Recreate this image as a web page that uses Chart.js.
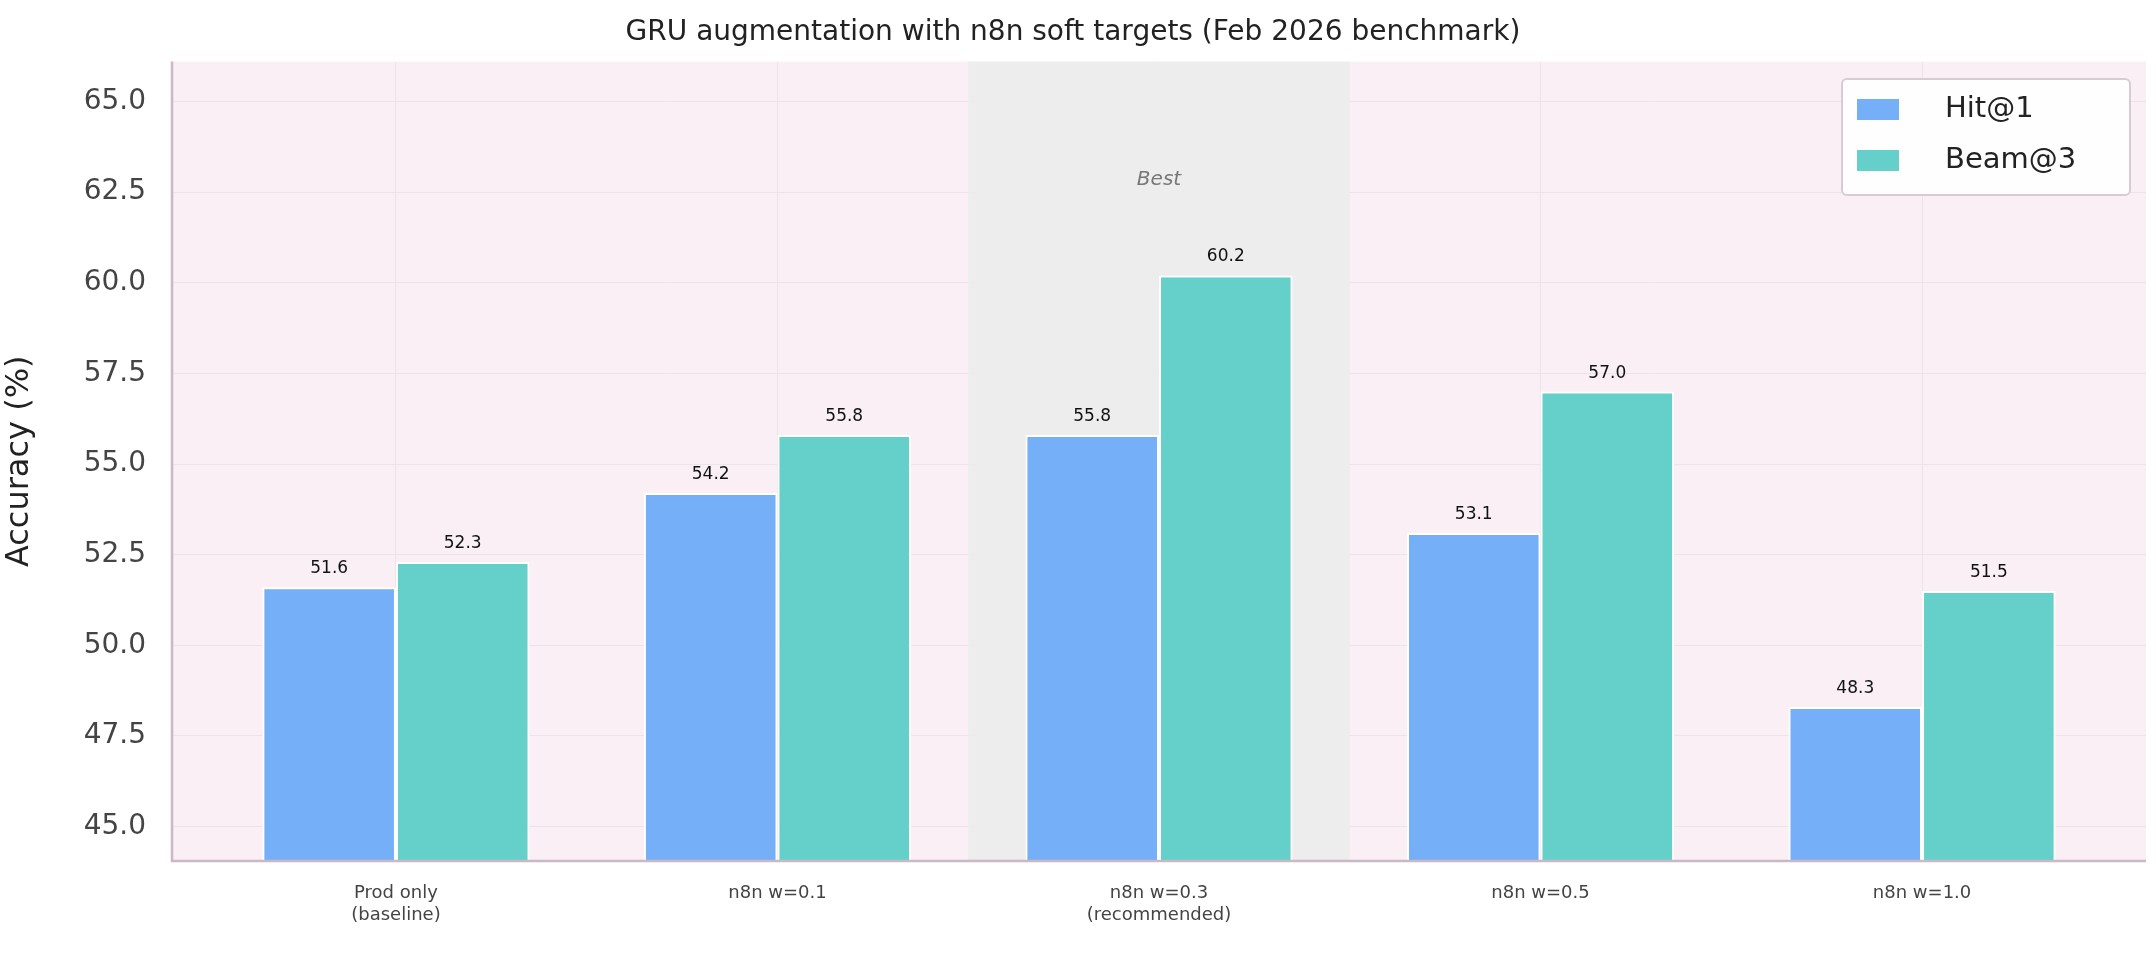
<!DOCTYPE html>
<html><head><meta charset="utf-8">
<script src="https://cdn.jsdelivr.net/npm/chart.js@4/dist/chart.umd.min.js"></script>
<style>body{margin:0;background:#fff}#wrap{width:2156px;height:955px}</style>
</head><body><div id="wrap"><canvas id="myChart"></canvas></div>
<script>
let categories = [['Prod only','(baseline)'], ['n8n w=0.1'], ['n8n w=0.3','(recommended)'], ['n8n w=0.5'], ['n8n w=1.0']]
let hit1 = [51.6, 54.2, 55.8, 53.1, 48.3]
let beam3 = [52.3, 55.8, 60.2, 57.0, 51.5]
let bestIndex = 2
const font = 'DejaVu Sans'

// фон, подсветка лучшей группы, подписи и легенда
const extras = {
    id: 'extras',
    beforeDatasetsDraw(chart) {
        const {ctx, chartArea: a, scales: {x, y}} = chart
        ctx.save()
        ctx.fillStyle = 'rgba(236,236,236,0.9)'
        let l = x.getPixelForValue(bestIndex - 0.5), r = x.getPixelForValue(bestIndex + 0.5)
        ctx.fillRect(l, a.top, r - l, a.bottom - a.top)
        ctx.fillStyle = '#777'
        ctx.font = 'italic 20px ' + font
        ctx.textAlign = 'center'
        ctx.fillText('Best', x.getPixelForValue(bestIndex), y.getPixelForValue(62.7))
        ctx.restore()
    },
    beforeDraw(chart) {
        const {ctx, chartArea: a} = chart
        ctx.save()
        ctx.fillStyle = '#f9eff5'
        ctx.fillRect(a.left, a.top, a.right - a.left, a.bottom - a.top)
        ctx.restore()
    },
    afterDatasetsDraw(chart) {
        const {ctx, chartArea: a} = chart
        ctx.save()
        ctx.font = '17px ' + font
        ctx.fillStyle = '#111'
        ctx.textAlign = 'center'
        chart.data.datasets.forEach((ds, i) => {
            chart.getDatasetMeta(i).data.forEach((bar, j) => {
                ctx.fillText(ds.data[j].y.toFixed(1), bar.x, bar.y - 14)
            })
        })
        // оси
        ctx.strokeStyle = '#c8b9c4'
        ctx.lineWidth = 2.5
        ctx.beginPath()
        ctx.moveTo(a.left, a.top); ctx.lineTo(a.left, a.bottom); ctx.lineTo(a.right, a.bottom)
        ctx.stroke()
        // легенда
        let lx = 1842, ly = 79, w = 288, h = 116
        ctx.fillStyle = 'rgba(255,255,255,0.9)'
        ctx.strokeStyle = '#d8cbd4'
        ctx.lineWidth = 2
        ctx.beginPath(); ctx.roundRect(lx, ly, w, h, 5); ctx.fill(); ctx.stroke()
        ctx.font = '29px ' + font
        ctx.textAlign = 'left'
        ctx.textBaseline = 'middle'
        chart.data.datasets.forEach((ds, i) => {
            let cy = ly + 30 + i * 51
            ctx.fillStyle = ds.backgroundColor
            ctx.fillRect(lx + 15, cy - 10, 42, 21)
            ctx.fillStyle = '#222'
            ctx.fillText(ds.label, lx + 103, cy)
        })
        ctx.restore()
    }
}

const toXY = arr => arr.map((v, i) => ({x: i, y: v}))

new Chart(document.getElementById('myChart'), {
    type: 'bar',
    data: {
        datasets: [
            {label: 'Hit@1', data: toXY(hit1), backgroundColor: '#74aff7', borderColor: '#fff', borderWidth: 2, borderSkipped: 'bottom'},
            {label: 'Beam@3', data: toXY(beam3), backgroundColor: '#64d0c9', borderColor: '#fff', borderWidth: 2, borderSkipped: 'bottom'}
        ]
    },
    options: {
        responsive: true, maintainAspectRatio: false, animation: false,
        layout: {padding: {right: 10, top: 0}},
        datasets: {bar: {barPercentage: 1, categoryPercentage: 0.7, grouped: true}},
        plugins: {
            legend: {display: false}, tooltip: {enabled: false},
            title: {display: true, text: 'GRU augmentation with n8n soft targets (Feb 2026 benchmark)',
                color: '#222', font: {family: font, size: 28, weight: 'normal'}, padding: {top: 16, bottom: 12}}
        },
        scales: {
            x: {
                type: 'linear', min: -0.587, max: 4.587, offset: false,
                afterBuildTicks: s => { s.ticks = categories.map((c, i) => ({value: i})) },
                afterFit: s => { s.height = 94 },
                grid: {color: '#ece4ea', drawTicks: false, offset: false},
                border: {display: false},
                ticks: {callback: v => categories[v], color: '#444', font: {family: font, size: 18}, padding: 22}
            },
            y: {
                min: 44.05, max: 66.1,
                afterBuildTicks: s => { s.ticks = [45,47.5,50,52.5,55,57.5,60,62.5,65].map(v => ({value: v})) },
                afterFit: s => { s.width = 172 },
                grid: {color: '#ece4ea', drawTicks: false},
                border: {display: false},
                ticks: {callback: v => v.toFixed(1), color: '#444', font: {family: font, size: 28}, padding: 26},
                title: {display: true, text: 'Accuracy (%)', color: '#222', font: {family: font, size: 32}, padding: {top: 0, bottom: 0}}
            }
        }
    },
    plugins: [extras]
})
</script></body></html>
